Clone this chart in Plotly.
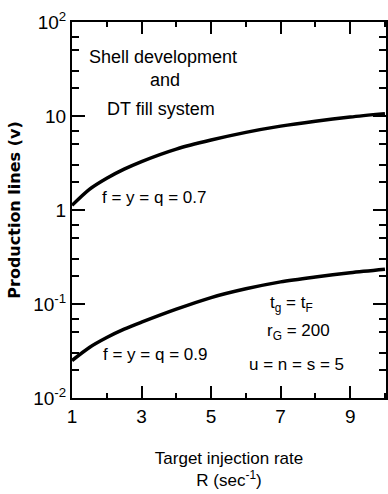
import plotly.graph_objects as go

# Data
rate = [1, 1.5, 2, 2.5, 3, 4, 5, 6, 7, 8, 9, 10]
lines_07 = [1.12, 1.66, 2.18, 2.72, 3.28, 4.45, 5.55, 6.7, 7.8, 8.8, 9.75, 10.6]
lines_09 = [0.025, 0.0345, 0.044, 0.054, 0.064, 0.088, 0.117, 0.145, 0.172, 0.194, 0.215, 0.234]

x_ticks = [1, 3, 5, 7, 9]
x_minor = [2, 4, 6, 8, 10]
y_ticks = [0.01, 0.1, 1, 10, 100]
y_ticktext = ["10<sup>-2</sup>", "10<sup>-1</sup>", "1", "10", "10<sup>2</sup>"]
y_minor = [0.02, 0.03, 0.05, 0.07, 0.2, 0.3, 0.5, 0.7, 2, 3, 5, 7, 20, 30, 50, 70]

FONT = "Liberation Sans, Arial, sans-serif"

fig = go.Figure()
for ys in (lines_07, lines_09):
    fig.add_trace(go.Scatter(x=rate, y=ys, mode="lines",
                             line=dict(color="black", width=3.5, shape="spline", smoothing=0.8),
                             showlegend=False, hoverinfo="skip"))

annots = [
    ("Shell development", 3.63, 1.628, 18),
    ("and", 3.66, 1.383, 18),
    ("DT fill system", 3.55, 1.074, 18),
    ("f = y = q = 0.7", 3.37, 0.128, 17),
    ("f = y = q = 0.9", 3.4, -1.532, 17),
    ("t<sub>g</sub> = t<sub>F</sub>", 7.3, -1.00, 17),
    ("r<sub>G</sub> = 200", 7.52, -1.30, 17),
    ("u = n = s = 5", 7.45, -1.64, 17),
]
for text, x, y, size in annots:
    fig.add_annotation(x=x, y=y, xref="x", yref="y", text=text, showarrow=False,
                       font=dict(family=FONT, size=size, color="black"),
                       xanchor="center", yanchor="middle")

fig.update_xaxes(
    range=[1, 10.03], tickvals=x_ticks, ticks="inside", ticklen=12, tickwidth=1.5,
    tickcolor="black", showline=True, linecolor="black", linewidth=2,
    mirror="allticks", showgrid=False, zeroline=False, ticklabelstandoff=0,
    tickfont=dict(family=FONT, size=19, color="black"),
    minor=dict(tickvals=x_minor, ticks="inside", ticklen=5, tickcolor="black", tickwidth=1.5),
    title=dict(text="Target injection rate<br>R (sec<sup>-1</sup>)",
               font=dict(family=FONT, size=17, color="black"), standoff=26),
)
fig.update_yaxes(
    type="log", range=[-2, 2], tickvals=y_ticks, ticktext=y_ticktext,
    ticks="inside", ticklen=13, tickwidth=1.5, tickcolor="black",
    showline=True, linecolor="black", linewidth=2, mirror="allticks",
    showgrid=False, zeroline=False,
    tickfont=dict(family=FONT, size=19, color="black"),
    minor=dict(tickvals=y_minor, ticks="inside", ticklen=7, tickcolor="black", tickwidth=1.5),
    title=dict(text="<b>Production lines (v)</b>",
               font=dict(family="DejaVu Sans, sans-serif", size=16, color="black"), standoff=9),
)
fig.update_layout(
    width=388, height=494,
    margin=dict(l=72, r=0, t=22, b=96),
    plot_bgcolor="white", paper_bgcolor="white",
)
fig.write_html("out.html")
